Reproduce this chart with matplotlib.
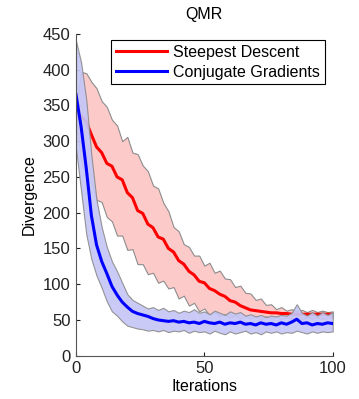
import matplotlib
matplotlib.use("Agg")
import matplotlib.pyplot as plt

plt.rcParams['font.family'] = ['Liberation Sans', 'DejaVu Sans']

# iterations sampled every 2 steps
iters = list(range(0, 101, 2))

sd_mean = [340, 335, 327, 309, 292, 284, 269, 265, 250, 246, 228, 221, 203, 199, 184, 179,
           166, 163, 150, 145, 133, 128, 118, 113, 104, 102, 94, 91, 86, 83, 77, 75, 70, 67,
           64, 63, 62, 61, 60, 60, 59, 59, 58, 58, 58, 58, 58, 58, 58, 58, 58]
sd_upper = [345, 397, 395, 383, 374, 356, 348, 330, 322, 300, 306, 284, 282, 266, 258, 238,
            234, 214, 202, 180, 174, 156, 152, 140, 140, 126, 130, 116, 119, 108, 107, 96,
            98, 88, 87, 78, 80, 71, 72, 65, 68, 63, 65, 62, 64, 61, 64, 61, 63, 61, 62]
sd_lower = [335, 270, 252, 243, 218, 215, 194, 188, 168, 168, 148, 149, 128, 128, 114, 116,
            102, 105, 94, 96, 80, 84, 70, 74, 62, 66, 57, 61, 55, 58, 53, 57, 52, 56, 52,
            55, 51, 55, 52, 54, 51, 54, 52, 54, 51, 54, 52, 54, 51, 54, 53]

cg_mean = [365, 320, 262, 196, 155, 132, 115, 97, 85, 75, 68, 62, 59, 57, 55, 52, 50, 49,
           48, 49, 47, 48, 46, 47, 45, 48, 46, 45, 47, 44, 46, 45, 47, 44, 45, 43, 46, 44,
           45, 43, 46, 44, 47, 51, 45, 46, 43, 45, 44, 46, 45]
cg_upper = [440, 410, 358, 280, 218, 180, 152, 132, 118, 102, 86, 78, 74, 70, 66, 68, 64,
            67, 62, 64, 60, 63, 61, 65, 60, 62, 58, 63, 60, 57, 62, 59, 61, 56, 58, 55, 57,
            54, 56, 55, 57, 56, 60, 72, 60, 56, 61, 56, 61, 57, 61]
cg_lower = [290, 230, 170, 135, 112, 95, 76, 62, 56, 48, 42, 40, 38, 37, 35, 36, 34, 36,
            33, 35, 34, 36, 32, 35, 33, 34, 31, 35, 32, 30, 34, 31, 33, 35, 31, 33, 30, 34,
            32, 34, 31, 33, 32, 35, 33, 31, 34, 32, 34, 33, 34]

fig = plt.figure(figsize=(3.59, 3.99), dpi=100)
ax = fig.add_axes([0.2117, 0.1085, 0.715, 0.8065])

ax.fill_between(iters, sd_lower, sd_upper, facecolor='#fdcaca',
                edgecolor='#8c8c8c', lw=0.8, zorder=1)
ax.plot(iters, sd_mean, color='red', lw=2.2, label='Steepest Descent', zorder=2)
ax.fill_between(iters, cg_lower, cg_upper, facecolor='#c6c6f7', alpha=0.92,
                edgecolor='#8c8c8c', lw=0.8, zorder=3)
ax.plot(iters, cg_mean, color='blue', lw=2.2, label='Conjugate Gradients', zorder=4)

ax.set_xlim(0, 100)
ax.set_ylim(0, 450)
ax.set_xticks([0, 50, 100])
ax.set_yticks(range(0, 451, 50))
ax.tick_params(direction='in', labelsize=12, colors='#222222', length=3, pad=4)
for side in ['top', 'right']:
    ax.spines[side].set_visible(False)
for side in ['left', 'bottom']:
    ax.spines[side].set_color('#555555')
    ax.spines[side].set_zorder(5)

ax.set_xlabel('Iterations', fontsize=11.5, labelpad=2)
ax.set_ylabel('Divergence', fontsize=11.5, labelpad=4)
ax.set_title('QMR', fontsize=11.5, pad=11)

leg = ax.legend(loc='upper right', bbox_to_anchor=(0.97, 0.981), fontsize=11.5,
                fancybox=False, framealpha=1, edgecolor='black', handlelength=3.2,
                borderpad=0.3, labelspacing=0.3, handletextpad=0.4, borderaxespad=0)
leg.get_frame().set_linewidth(0.8)
leg.set_zorder(6)

fig.savefig('out.png', dpi=100)
